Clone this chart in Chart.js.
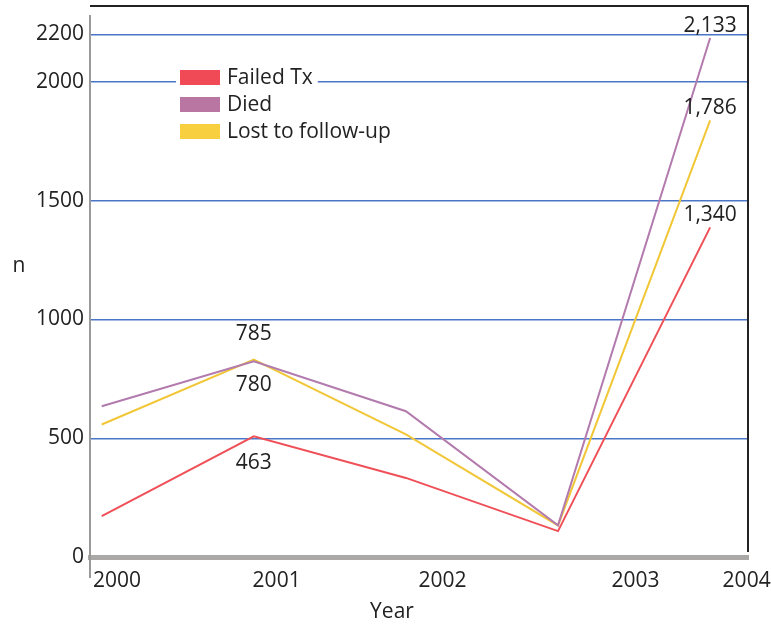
<!DOCTYPE html>
<html lang="en">
<head>
  <meta charset="UTF-8">
  <title>Outcomes by year</title>
  <script src="https://cdn.jsdelivr.net/npm/chart.js"></script>
  <style>
    body { margin: 0; background: #fff; }
    #wrap { position: relative; width: 771px; height: 625px; }
    #frameTop { position: absolute; left: 90px; top: 5px; width: 659px; height: 2px; background: #222; }
    #frameRight { position: absolute; left: 747px; top: 5px; width: 2px; height: 547px; background: #222; }
  </style>
</head>
<body>
  <div id="wrap">
    <canvas id="outcomeChart" width="771" height="625"></canvas>
    <div id="frameTop"></div>
    <div id="frameRight"></div>
  </div>

  <script>
    const years = ['2000', '2001', '2002', '2003', '2004'];
    const xTickAt = [0.1, 1.15, 2.24, 3.51, 4.24];   // where the year labels sit on the x scale
    const yTicks = [0, 500, 1000, 1500, 2000, 2200];

    const failedTx = [172, 508, 333, 109, 1388];
    const died = [635, 824, 614, 133, 2185];
    const lostFollowUp = [558, 831, 516, 133, 1838];

    const seriesNames = ['Failed Tx', 'Died', 'Lost to follow-up'];
    const lineColors = ['#ef5058', '#b27aad', '#f1c737'];
    const swatchColors = ['#f04a56', '#b976a3', '#f8d03f'];

    // printed value labels: [series, year index, text, above/below]
    const valueLabels = [
      [1, 1, '785', 'above'],
      [1, 1, '780', 'below'],
      [0, 1, '463', 'below'],
      [1, 4, '2,133', 'above'],
      [2, 4, '1,786', 'above'],
      [0, 4, '1,340', 'above']
    ];

    const FONT = "'Open Sans', sans-serif";
    const series = [failedTx, died, lostFollowUp];

    const extras = {
      id: 'extras',
      afterDraw(chart) {
        const { ctx, chartArea: a, scales } = chart;
        ctx.save();

        // black top edge and grey left axis line, longer than the plot
        ctx.fillStyle = '#222';
        ctx.fillRect(a.left, a.top - 1, a.right - a.left + 1, 2);
        ctx.fillStyle = '#9a9a9a';
        ctx.fillRect(a.left - 1, a.top + 9, 2, a.bottom - a.top + 12);

        // value labels
        ctx.fillStyle = '#222';
        ctx.font = '21px ' + FONT;
        ctx.textAlign = 'center';
        ctx.textBaseline = 'middle';
        valueLabels.forEach(([s, i, text, pos]) => {
          const px = scales.x.getPixelForValue(i);
          const py = scales.y.getPixelForValue(series[s][i]);
          const dy = i === 4 ? -12 : (pos === 'above' ? -27 : (s === 0 ? 27 : 24));
          ctx.fillText(text, px, py + dy);
        });

        // legend inside the plot
        ctx.textAlign = 'left';
        seriesNames.forEach((name, k) => {
          const cy = 77 + k * 27;
          const w = ctx.measureText(name).width;
          ctx.fillStyle = '#fff';
          ctx.fillRect(176, cy - 10, 56 + w, 20);
          ctx.fillStyle = swatchColors[k];
          ctx.fillRect(180, cy - 7, 40, 15);
          ctx.fillStyle = '#222';
          ctx.fillText(name, 227, cy + 1);
        });

        // axis titles
        ctx.textAlign = 'center';
        ctx.fillText('n', 19, 266);
        ctx.fillText('Year', 392, 612);
        ctx.restore();
      }
    };

    new Chart(document.getElementById('outcomeChart'), {
      type: 'line',
      data: {
        datasets: series.map((vals, k) => ({
          label: seriesNames[k],
          data: vals.map((v, i) => ({ x: i, y: v })),
          borderColor: lineColors[k],
          borderWidth: 2,
          pointRadius: 0,
          tension: 0,
          fill: false
        }))
      },
      options: {
        responsive: false,
        animation: false,
        layout: { padding: { top: 6, right: 23, left: 0, bottom: 0 } },
        plugins: { legend: { display: false }, tooltip: { enabled: false } },
        scales: {
          x: {
            type: 'linear',
            min: -0.077,
            max: 4.249,
            afterFit: s => { s.height = 68; s.paddingLeft = 0; s.paddingRight = 0; },
            afterBuildTicks: s => { s.ticks = xTickAt.map(v => ({ value: v })); },
            grid: { display: false, drawTicks: false },
            border: { color: '#aba8a8', width: 5 },
            ticks: {
              autoSkip: false,
              maxRotation: 0,
              padding: 11,
              color: '#222',
              font: { family: FONT, size: 21 },
              callback: (v, i) => years[i]
            }
          },
          y: {
            min: 0,
            max: 2320,
            afterFit: s => { s.width = 90; s.paddingTop = 0; s.paddingBottom = 0; },
            afterBuildTicks: s => { s.ticks = yTicks.map(v => ({ value: v })); },
            grid: {
              drawTicks: false,
              lineWidth: 1.5,
              color: c => c.tick && c.tick.value === 0 ? 'rgba(0,0,0,0)' : '#4a76c8'
            },
            border: { display: false },
            ticks: {
              padding: 6,
              color: '#222',
              font: { family: FONT, size: 21 },
              callback: v => String(v)
            }
          }
        }
      },
      plugins: [extras]
    });
  </script>
</body>
</html>
